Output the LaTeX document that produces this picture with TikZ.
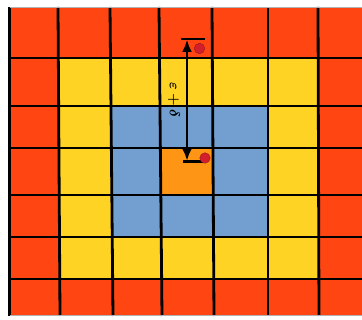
\documentclass[tikz,border=0pt]{standalone}
\usetikzlibrary{arrows.meta}
\usepackage{amsmath,amssymb,bm}
\definecolor{cred}{HTML}{FF4612}
\definecolor{cyellow}{HTML}{FFD323}
\definecolor{cblue}{HTML}{729FCF}
\definecolor{corange}{HTML}{FF9514}
\definecolor{cdot}{HTML}{D21F2B}
\tikzset{
  gridline/.style={line width=2.8pt,black},
  bar/.style={line width=2.6pt,black},
  dimarrow/.style={line width=2.4pt,black,{Latex[length=12pt,width=10pt]}-{Latex[length=12pt,width=10pt]},shorten <=0.8pt,shorten >=0.8pt},
  rdot/.style={circle,fill=cdot,draw=cdot!70!black,line width=0.4pt,minimum size=10.5pt,inner sep=0pt},
}
\begin{document}
\begin{tikzpicture}[x=1pt,y=-1pt]
\useasboundingbox (0,0) rectangle (362,320);
\fill[white] (0,0) rectangle (362,320);
\foreach \i/\xt/\xb in {0/9.5/9.5,1/58/60,2/110/113,3/159/162,4/212/214,5/268/268,6/318/319,7/366/366}{
  \foreach \j/\yy in {0/7,1/58,2/106,3/148,4/195,5/237,6/279,7/316}{
    \coordinate (p\i-\j) at ({\xt+(\xb-\xt)*(\yy-7)/309},\yy);
  }
}
\fill[cred] (p0-0) rectangle (p7-7);
\fill[cyellow] (p1-1)--(p6-1)--(p6-6)--(p1-6)--cycle;
\fill[cblue] (p2-2)--(p5-2)--(p5-5)--(p2-5)--cycle;
\fill[corange] (p3-3)--(p4-3)--(p4-4)--(p3-4)--cycle;
\foreach \i in {0,...,6}{\draw[gridline] (p\i-0)--(p\i-7);}
\foreach \j in {1,...,6}{\draw[gridline] (p0-\j)--(p7-\j);}
\draw[gray!60,line width=0.8pt] (p0-0)--(p7-0);
\draw[gray!60,line width=1pt] (p0-7)--(p7-7);
% dimension arrow
\coordinate (tl) at (181,39);
\coordinate (tr) at (205,39);
\coordinate (bl) at (183,161.5);
\coordinate (br) at (203,161.5);
\coordinate (ta) at (187,39);
\coordinate (ba) at (187,161.5);
\draw[bar] (tl)--(tr);
\draw[bar] (bl)--(br);
\draw[dimarrow] (ba)--(ta);
\node[rdot] (d1) at (199.5,48.5) {};
\node[rdot] (d2) at (205,158) {};
\node[rotate=-90,inner sep=0pt,font=\Large] (lab) at (174,100) {$\bm{\varepsilon+\delta}$};
\end{tikzpicture}
\end{document}
